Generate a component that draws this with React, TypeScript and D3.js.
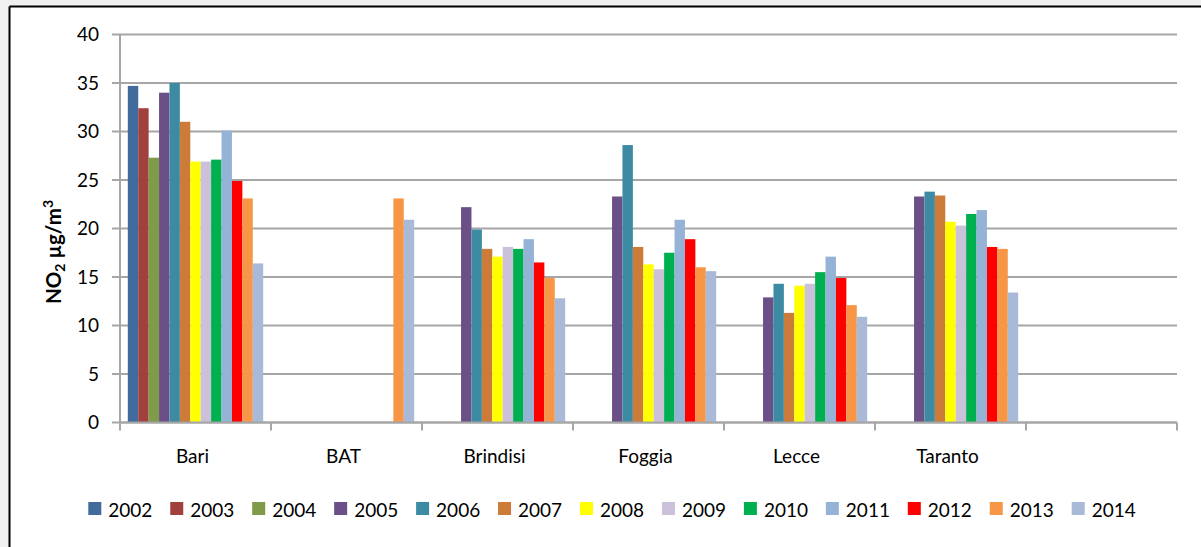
import React from "react";
import * as d3 from "d3";

const categories = ["Bari", "BAT", "Brindisi", "Foggia", "Lecce", "Taranto", ""];
const years = ["2002", "2003", "2004", "2005", "2006", "2007", "2008", "2009", "2010", "2011", "2012", "2013", "2014"];
const colors = ["#416A9D", "#A0413E", "#7F9A48", "#6A5087", "#3D8BA3", "#CC7B38", "#FFFF00", "#CCC1DA", "#00B050", "#95B3D7", "#FF0000", "#F79646", "#A9B9D8"];

const bari = [34.7, 32.4, 27.3, 34.0, 35.0, 31.0, 26.9, 26.9, 27.1, 30.1, 24.9, 23.1, 16.4];
const bat = [null, null, null, null, null, null, null, null, null, null, null, 23.1, 20.9];
const brindisi = [null, null, null, 22.2, 19.9, 17.9, 17.1, 18.1, 17.9, 18.9, 16.5, 14.9, 12.8];
const foggia = [null, null, null, 23.3, 28.6, 18.1, 16.3, 15.8, 17.5, 20.9, 18.9, 16.0, 15.6];
const lecce = [null, null, null, 12.9, 14.3, 11.3, 14.1, 14.3, 15.5, 17.1, 14.9, 12.1, 10.9];
const taranto = [null, null, null, 23.3, 23.8, 23.4, 20.7, 20.3, 21.5, 21.9, 18.1, 17.9, 13.4];
const empty = [null, null, null, null, null, null, null, null, null, null, null, null, null];

const yTicks = [0, 5, 10, 15, 20, 25, 30, 35, 40];

const valuesByCategory: (number | null)[][] = [bari, bat, brindisi, foggia, lecce, taranto, empty];

export default function App() {
  const W = 1201;
  const H = 547;
  const left = 120;
  const right = 1177;
  const y = d3.scaleLinear().domain([0, 40]).range([422.5, 34.5]);
  const x = d3.scaleBand<string>().domain(categories.map((c, i) => String(i))).range([left, right]).padding(0);
  const bw = x.bandwidth();
  const barW = bw / (years.length + 1.5);
  const inner = d3
    .scaleBand<string>()
    .domain(years)
    .range([barW * 0.75, barW * 0.75 + barW * years.length])
    .padding(0);

  const font = "Lato, 'Open Sans', sans-serif";
  const gridColor = "#A6A6A6";
  const fs = 19;

  return (
    <svg width={W} height={H} style={{ position: "absolute", left: 0, top: 0 }} fontFamily={font}>
      <rect x={0} y={0} width={W} height={H} fill="#F0F0F0" />
      <rect x={9} y={6} width={W} height={H} fill="#FFFFFF" />
      <line x1={9.5} y1={6.5} x2={W} y2={6.5} stroke="#000" strokeWidth={2} />
      <line x1={9.5} y1={6.5} x2={9.5} y2={H} stroke="#000" strokeWidth={2} />

      {/* gridlines and y ticks */}
      {yTicks.map((t) => (
        <g key={t}>
          <line x1={112} x2={right} y1={y(t)} y2={y(t)} stroke={gridColor} strokeWidth={2} />
          <text x={99} y={y(t)} dy="0.35em" textAnchor="end" fontSize={fs} fill="#000">
            {t}
          </text>
        </g>
      ))}
      <line x1={left} x2={left} y1={y(40)} y2={y(0) + 8} stroke={gridColor} strokeWidth={2} />

      {/* bars */}
      {valuesByCategory.map((vals, ci) => (
        <g key={ci} transform={`translate(${x(String(ci))},0)`}>
          {vals.map((v, yi) =>
            v == null ? null : (
              <rect
                key={yi}
                x={inner(years[yi])}
                y={y(v)}
                width={inner.bandwidth()}
                height={y(0) - y(v)}
                fill={colors[yi]}
              />
            )
          )}
        </g>
      ))}

      {/* x axis */}
      <line x1={left} x2={right} y1={y(0)} y2={y(0)} stroke={gridColor} strokeWidth={2} />
      {categories.map((c, i) => (
        <line
          key={"t" + i}
          x1={(x(String(i)) as number) + bw}
          x2={(x(String(i)) as number) + bw}
          y1={y(0)}
          y2={y(0) + 8}
          stroke={gridColor}
          strokeWidth={2}
        />
      ))}
      {categories.map((c, i) => (
        <text key={"c" + i} x={(x(String(i)) as number) + bw / 2 - 3} y={463} textAnchor="middle" fontSize={fs} fill="#000">
          {c}
        </text>
      ))}

      {/* y axis title */}
      <text transform="translate(61,252) rotate(-90)" textAnchor="middle" fontSize={20.5} fontWeight="bold" fill="#000">
        <tspan>NO</tspan>
        <tspan fontSize={14} dy={4}>2</tspan>
        <tspan dy={-4}> µg/m</tspan>
        <tspan fontSize={14} dy={-8}>3</tspan>
      </text>

      {/* legend */}
      {years.map((yr, i) => {
        const lx = 88.3 + i * 81.95;
        return (
          <g key={yr}>
            <rect x={lx} y={502} width={13} height={13} fill={colors[i]} />
            <text x={lx + 20} y={517} fontSize={fs} fill="#000">
              {yr}
            </text>
          </g>
        );
      })}
    </svg>
  );
}
